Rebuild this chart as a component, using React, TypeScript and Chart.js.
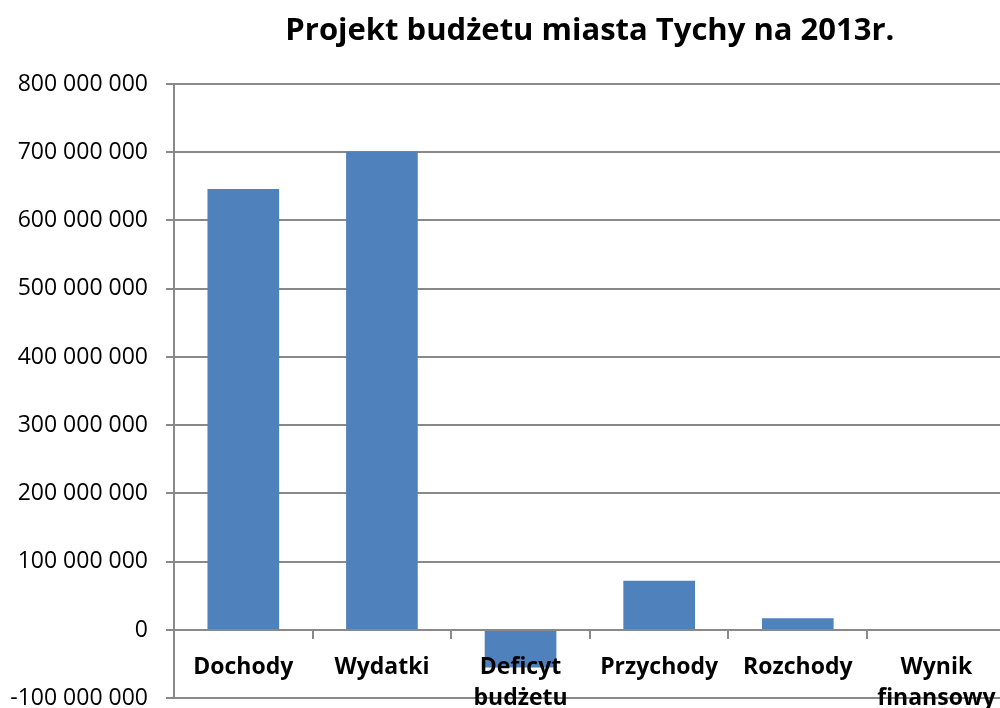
import React, { useEffect, useRef } from "react";
import { Chart, registerables } from "chart.js";

Chart.register(...registerables);

const titleText = "Projekt budżetu miasta Tychy na 2013r.";
const categories: (string | string[])[] = [
  "Dochody",
  "Wydatki",
  ["Deficyt", "budżetu"],
  "Przychody",
  "Rozchody",
  ["Wynik", "finansowy"],
];
const values = [646000000, 701000000, -55000000, 72000000, 17000000, 0];
const yMin = -100000000;
const yMax = 800000000;
const yStep = 100000000;

const GRID = "#898989";
const FONT = "'Open Sans', sans-serif";

function formatTick(v: number): string {
  const neg = v < 0;
  const s = Math.abs(Math.round(v)).toString().replace(/\B(?=(\d{3})+(?!\d))/g, " ");
  return (neg ? "-" : "") + s;
}

export default function App() {
  const ref = useRef<HTMLCanvasElement | null>(null);
  useEffect(() => {
    if (!ref.current) return;
    const chart = new Chart(ref.current, {
      type: "bar",
      data: {
        labels: categories as any,
        datasets: [
          {
            data: values,
            backgroundColor: "#4F81BD",
            borderWidth: 0,
            categoryPercentage: 1,
            barPercentage: 0.517,
          },
        ],
      },
      options: {
        responsive: false,
        animation: false,
        devicePixelRatio: 1,
        layout: { padding: { left: 0, right: 4, top: 0, bottom: 28 } },
        plugins: {
          legend: { display: false },
          tooltip: { enabled: false },
          title: {
            display: true,
            text: titleText,
            fullSize: false,
            color: "#000",
            font: { family: FONT, size: 31, weight: "bold", lineHeight: 1.2 },
            padding: { top: 13, bottom: 33.8 },
          },
        },
        scales: {
          x: {
            type: "category",
            position: { y: 0 } as any,
            offset: true,
            grid: {
              display: true,
              drawOnChartArea: false,
              drawTicks: true,
              tickLength: 8,
              color: GRID,
              lineWidth: 2,
              offset: true,
              z: 1,
            },
            border: { display: true, color: GRID, width: 2, z: 1 } as any,
            ticks: {
              color: "#000",
              font: { family: FONT, size: 23, weight: "bold", lineHeight: 1.35 },
              padding: 14,
              maxRotation: 0,
              autoSkip: false,
              z: 1,
            },
          },
          y: {
            position: "left",
            min: yMin,
            max: yMax,
            grid: {
              color: GRID,
              lineWidth: 2,
              tickLength: 8,
              drawTicks: true,
            },
            border: { display: true, color: GRID, width: 2 },
            afterFit: (scale: any) => {
              scale.width = 174;
            },
            ticks: {
              stepSize: yStep,
              color: "#000",
              padding: 18,
              font: { family: FONT, size: 23 },
              callback: (v: any) => formatTick(Number(v)),
            },
          },
        },
      },
    });
    return () => chart.destroy();
  }, []);

  return (
    <div
      style={{
        position: "fixed",
        left: 0,
        top: 0,
        width: 1000,
        height: 708,
        overflow: "hidden",
        background: "#fff",
      }}
    >
      <canvas ref={ref} width={1010} height={730} style={{ display: "block", width: 1010, height: 730 }} />
    </div>
  );
}
